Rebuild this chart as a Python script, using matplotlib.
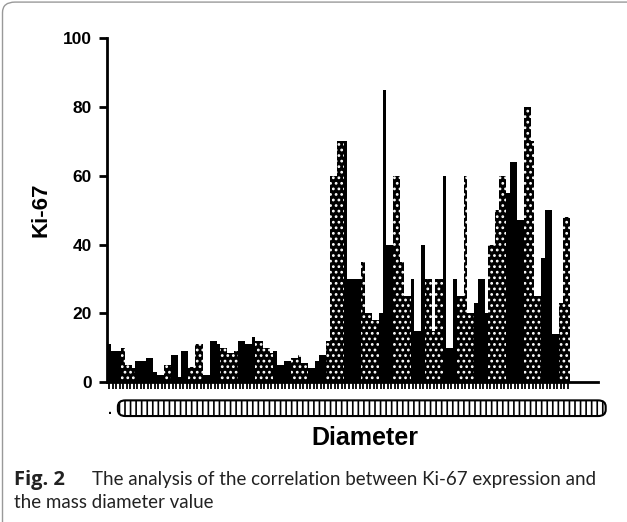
import matplotlib
matplotlib.use("Agg")
from matplotlib import pyplot as plt
from matplotlib.patches import FancyBboxPatch

# Ki-67 values, as runs of equal bars:
# height, hatched (dotted) or solid, and how many bars in the run
run_heights = [11, 9, 10, 5, 4, 6, 6, 7, 3, 2, 5, 8, 1.5, 9, 4.5, 11, 2, 12, 11, 10,
               8.5, 9, 12, 11, 13, 12, 10, 8.5, 9, 5, 6, 7, 8, 5.5, 4, 6, 8, 12, 60, 70,
               70, 30, 35, 20, 18, 20, 85, 40, 60, 35, 25, 30, 15, 40, 30, 15, 30, 60, 10, 30,
               25, 60, 20, 23, 30, 20, 40, 50, 60, 55, 64, 47, 80, 70, 25, 36, 50, 14, 23, 48]
run_dotted = [0, 0, 1, 1, 1, 0, 0, 0, 0, 0, 1, 0, 0, 0, 1, 1, 0, 0, 0, 1,
              1, 1, 0, 0, 0, 1, 1, 1, 0, 0, 0, 1, 1, 1, 0, 0, 0, 1, 1, 1,
              0, 0, 1, 1, 1, 0, 0, 0, 1, 1, 1, 0, 0, 0, 1, 1, 1, 0, 0, 0,
              1, 1, 1, 0, 0, 0, 1, 1, 1, 0, 0, 0, 1, 1, 1, 0, 0, 0, 1, 1]
run_counts = [1, 3, 1, 2, 1, 2, 1, 2, 1, 2, 2, 2, 1, 2, 2, 2, 2, 2, 1, 2,
              2, 1, 2, 2, 1, 2, 2, 1, 1, 2, 2, 2, 1, 2, 2, 1, 2, 1, 2, 2,
              1, 4, 1, 2, 2, 1, 1, 2, 2, 1, 2, 1, 2, 1, 2, 1, 2, 1, 2, 1,
              2, 1, 2, 1, 2, 1, 2, 1, 2, 1, 2, 2, 2, 1, 2, 1, 2, 2, 1, 2]
y_ticks = [0, 20, 40, 60, 80, 100]

ki67, dotted = [], []
for h, d, n in zip(run_heights, run_dotted, run_counts):
    ki67 += [h] * n
    dotted += [d] * n
x = list(range(len(ki67)))

plt.rcParams['font.family'] = ['Liberation Sans', 'DejaVu Sans']
plt.rcParams['hatch.linewidth'] = 1.2

fig = plt.figure(figsize=(6.27, 5.22), dpi=100)
ax = fig.add_axes([0.171, 0.268, 0.783, 0.659])

solid_x = [i for i in x if not dotted[i]]
solid_h = [ki67[i] for i in x if not dotted[i]]
dot_x = [i for i in x if dotted[i]]
dot_h = [ki67[i] for i in x if dotted[i]]
ax.bar(solid_x, solid_h, width=1.0, color='black', linewidth=0)
ax.bar(dot_x, dot_h, width=1.0, facecolor='black', edgecolor='white', hatch='...', linewidth=0)

ax.set_xlim(-0.5, 138.6)
ax.set_ylim(0, 100)
ax.set_yticks(y_ticks)
ax.set_yticklabels([str(v) for v in y_ticks], fontsize=12.5, fontweight='bold')
ax.set_xticks(x)
ax.set_xticklabels([])
ax.tick_params(axis='y', length=6, width=2, pad=5)
ax.tick_params(axis='x', length=5, width=1.3, pad=2)
ax.spines['top'].set_visible(False)
ax.spines['right'].set_visible(False)
ax.spines['left'].set_linewidth(2)
ax.spines['bottom'].set_linewidth(2)
ax.set_ylabel("Ki-67", fontsize=16, fontweight='bold', labelpad=8)

# squashed tick labels under the axis show up as a striped rounded bar
lab_box = FancyBboxPatch((0.188, 0.203), 0.778, 0.030, boxstyle="round,pad=0,rounding_size=0.012",
                         transform=fig.transFigure, facecolor='white', edgecolor='black',
                         linewidth=1.5, hatch='|||')
fig.patches.append(lab_box)
fig.text(0.172, 0.206, ".", fontsize=10, fontweight='bold')

fig.text(0.582, 0.148, "Diameter", ha='center', fontsize=18, fontweight='bold')

# figure caption and frame
cap_font = ['Lato', 'DejaVu Sans']
fig.text(0.022, 0.071, "Fig. 2", fontsize=14.5, fontweight='bold',
         family=['Open Sans', 'DejaVu Sans'], color='#222222')
fig.text(0.147, 0.071, "The analysis of the correlation between Ki-67 expression and",
         fontsize=13.5, family=cap_font, color='#222222')
fig.text(0.022, 0.027, "the mass diameter value", fontsize=13.5, family=cap_font, color='#222222')
frame = FancyBboxPatch((0.004, -0.05), 1.05, 1.046, boxstyle="round,pad=0,rounding_size=0.02",
                       transform=fig.transFigure, facecolor='none', edgecolor='#999999', linewidth=1)
fig.patches.append(frame)

plt.savefig('out.png', dpi=100)
